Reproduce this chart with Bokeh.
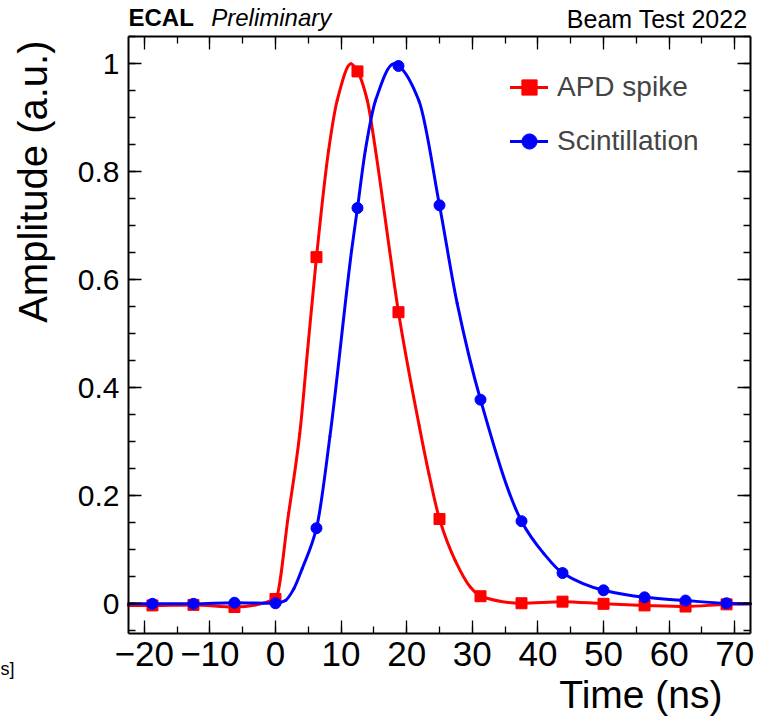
import numpy as np
from bokeh.plotting import figure
from bokeh.models import (ColumnDataSource, Range1d, LinearAxis, SingleIntervalTicker,
                          CustomJSTickFormatter, Label, Legend, LegendItem)
from bokeh.embed import file_html
from bokeh.resources import INLINE

# ---- data ---------------------------------------------------------------
# digitised samples (time in ns, normalised amplitude)
sample_time = [-18.75, -12.5, -6.25, 0.0, 6.25, 12.5, 18.75, 25.0, 31.25,
               37.5, 43.75, 50.0, 56.25, 62.5, 68.75]
apd_samples = [-0.003, -0.002, -0.006, 0.009, 0.642, 0.986, 0.540, 0.157,
               0.014, 0.001, 0.004, 0.000, -0.003, -0.005, -0.001]
scint_samples = [0.000, 0.000, 0.002, 0.001, 0.140, 0.733, 0.996, 0.738,
                 0.378, 0.153, 0.057, 0.025, 0.012, 0.006, 0.001]

# pulse shapes
apd_curve_time = [-22.4, -18.75, -12.5, -6.25, 0.0, 2.0, 3.7, 4.9, 6.25, 8.1,
                  9.4, 11.5, 12.5, 14.0, 15.25, 17.4, 18.75, 21.9, 23.4, 25.0,
                  27.4, 29.7, 31.25, 37.5, 43.75, 50.0, 56.25, 62.5, 68.75, 72.4]
apd_curve_amp = [-0.003, -0.003, -0.002, -0.006, 0.009, 0.167, 0.315, 0.470,
                 0.642, 0.840, 0.932, 1.000, 0.986, 0.932, 0.840, 0.654, 0.540,
                 0.330, 0.240, 0.157, 0.080, 0.031, 0.014, 0.001, 0.004, 0.000,
                 -0.003, -0.005, -0.001, 0.000]
scint_curve_time = [-22.4, -18.75, -12.5, -6.25, 0.0, 1.5, 2.8, 4.07, 6.25, 8.3,
                    11.6, 12.5, 13.7, 15.25, 18.05, 18.75, 21.85, 25.0, 27.7,
                    31.25, 37.5, 40.9, 43.75, 50.0, 56.25, 62.5, 68.75, 72.4]
scint_curve_amp = [0.000, 0.000, 0.000, 0.002, 0.001, 0.006, 0.028, 0.065,
                   0.140, 0.310, 0.654, 0.733, 0.840, 0.932, 1.000, 0.996,
                   0.932, 0.738, 0.556, 0.378, 0.153, 0.093, 0.057, 0.025,
                   0.012, 0.006, 0.001, 0.000]

series_labels = ["APD spike", "Scintillation"]
series_colors = ["#ff0000", "#0000ff"]
x_title = "Time (ns)"
y_title = "Amplitude (a.u.)"

# plot box (data limits of the drawn frame)
X_LO, X_HI = -22.4, 72.4
Y_LO, Y_HI = -0.055, 1.0506


def smooth_segments(t, y):
    """Monotone cubic (PCHIP) curve through the points, as Bezier segments."""
    t = np.asarray(t, float)
    y = np.asarray(y, float)
    h = np.diff(t)
    d = np.diff(y) / h
    m = np.zeros(len(t))
    for i in range(1, len(t) - 1):
        if d[i - 1] * d[i] <= 0:
            m[i] = 0.0
        else:
            w1 = 2 * h[i] + h[i - 1]
            w2 = h[i] + 2 * h[i - 1]
            m[i] = (w1 + w2) / (w1 / d[i - 1] + w2 / d[i])
    m[0] = d[0]
    m[-1] = d[-1]
    return dict(x0=t[:-1], y0=y[:-1], x1=t[1:], y1=y[1:],
                cx0=t[:-1] + h / 3, cy0=y[:-1] + m[:-1] * h / 3,
                cx1=t[1:] - h / 3, cy1=y[1:] - m[1:] * h / 3)


FONT = "Liberation Sans"
W, H = 769, 719
BOX_L, BOX_R, BOX_T, BOX_B = 128, 750, 36, 633   # pixel edges of the plot box
sx = (BOX_R - BOX_L) / (X_HI - X_LO)
sy = (BOX_B - BOX_T) / (Y_HI - Y_LO)
BASE = 0.33   # label anchor -> alphabetic baseline shift, in font sizes


def px2x(px):
    return X_LO + (px - BOX_L) / sx


def py2y(py):
    return Y_HI - (py - BOX_T) / sy


p = figure(width=W, height=H, x_range=Range1d(px2x(0), px2x(W)),
           y_range=Range1d(py2y(H), py2y(0)), output_backend="svg",
           toolbar_location=None, x_axis_type=None, y_axis_type=None,
           min_border=0)
p.min_border_left = p.min_border_right = p.min_border_top = p.min_border_bottom = 0
p.outline_line_color = None
p.background_fill_color = "white"
p.border_fill_color = "white"


def make_axis(kind, loc, labels):
    if kind == "x":
        ax = LinearAxis(ticker=SingleIntervalTicker(interval=10, num_minor_ticks=2),
                        fixed_location=loc, bounds=(X_LO, X_HI))
        ax.formatter = CustomJSTickFormatter(
            code="return tick < 0 ? '\\u2212' + Math.abs(Math.round(tick)) : String(Math.round(tick));")
        ax.major_label_text_font = FONT
        ax.major_label_text_font_size = "35px"
        ax.major_label_standoff = 8
    else:
        ax = LinearAxis(ticker=SingleIntervalTicker(interval=0.2, num_minor_ticks=4),
                        fixed_location=loc, bounds=(Y_LO, Y_HI))
        ax.formatter = CustomJSTickFormatter(
            code="const v = Math.round(tick*10)/10; return v === 0 ? '0' : String(v);")
        ax.major_label_text_font = FONT
        ax.major_label_text_font_size = "30px"
        ax.major_label_standoff = 9
    ax.axis_line_color = "black"
    ax.axis_line_width = 2
    ax.major_tick_in = 13
    ax.major_tick_out = 0
    ax.minor_tick_in = 7
    ax.minor_tick_out = 0
    ax.major_tick_line_color = "black"
    ax.minor_tick_line_color = "black"
    ax.major_tick_line_width = 1.3
    ax.minor_tick_line_width = 1.3
    ax.major_label_text_color = "black" if labels else None
    return ax


p.add_layout(make_axis("x", Y_LO, True), "below")
p.add_layout(make_axis("x", Y_HI, False), "above")
p.add_layout(make_axis("y", X_LO, True), "left")
p.add_layout(make_axis("y", X_HI, False), "right")

items = []
for label, color, ct, ca, sv, mk in [
        (series_labels[0], series_colors[0], apd_curve_time, apd_curve_amp, apd_samples, "square"),
        (series_labels[1], series_colors[1], scint_curve_time, scint_curve_amp, scint_samples, "circle")]:
    seg = ColumnDataSource(smooth_segments(ct, ca))
    r_line = p.bezier(x0="x0", y0="y0", x1="x1", y1="y1", cx0="cx0", cy0="cy0",
                      cx1="cx1", cy1="cy1", source=seg, line_color=color,
                      line_width=3, line_cap="round")
    r_pts = p.scatter(x=sample_time, y=sv, marker=mk, size=11,
                      fill_color=color, line_color=color)
    items.append(LegendItem(label=label, renderers=[r_line, r_pts]))

# legend: rows centred at y=87 and y=141 px, glyph from x=510 px
legend = Legend(items=items, location=(510, H - 161), border_line_color=None,
                background_fill_alpha=0, label_text_font=FONT,
                label_text_font_size="28px", glyph_width=38, glyph_height=40,
                label_height=40, spacing=14, padding=0, margin=0,
                label_standoff=9, label_text_baseline="middle")
p.add_layout(legend)


def text_label(px, py, text, size, align, style="normal", angle=0.0):
    if angle:
        px = px - BASE * size
    else:
        py = py - BASE * size
    return Label(x=px2x(px), y=py2y(py), text=text, text_font=FONT,
                 text_font_style=style, text_font_size=f"{size}px",
                 text_baseline="alphabetic", text_align=align, angle=angle,
                 text_color="black")


p.add_layout(text_label(128, 25, "ECAL", 24, "left", "bold"))
p.add_layout(text_label(210.7, 25, "Preliminary", 24, "left", "italic"))
p.add_layout(text_label(747, 26.7, "Beam Test 2022", 25, "right"))
p.add_layout(text_label(722, 706.7, x_title, 39, "right"))
p.add_layout(text_label(46, 40, y_title, 40, "right", angle=np.pi / 2))
p.add_layout(text_label(14, 674, "s]", 18, "right"))

open("out.html", "w").write(file_html(p, INLINE))
